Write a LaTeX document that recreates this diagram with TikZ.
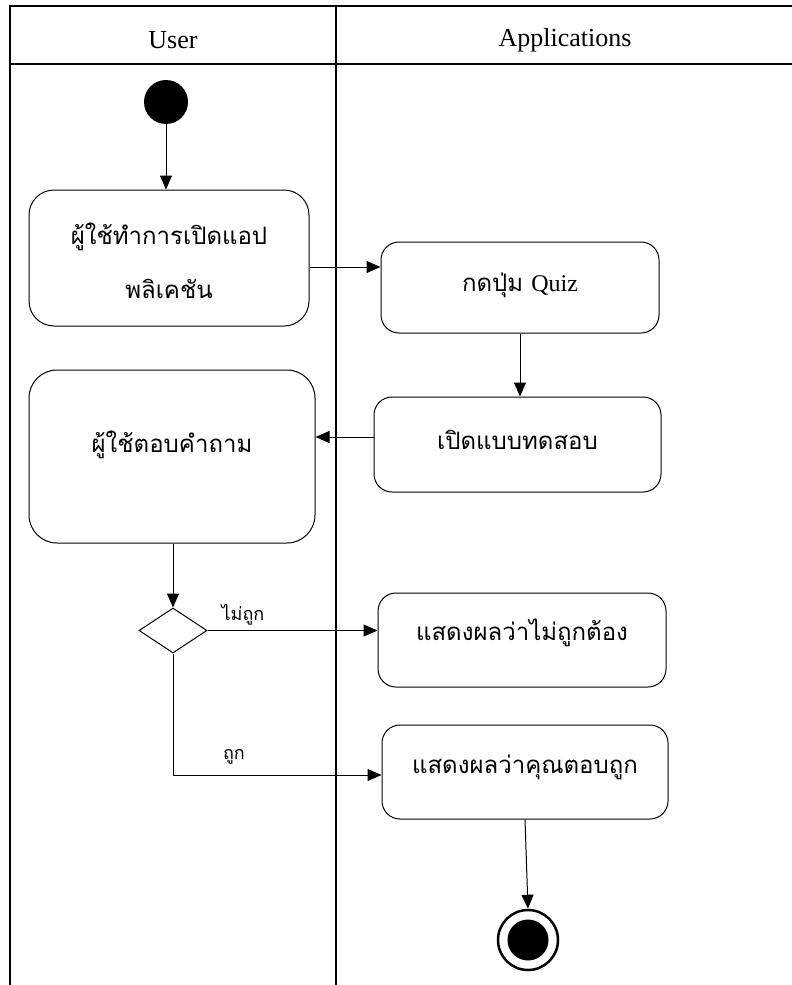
\documentclass[tikz,border=0pt]{standalone}
\usepackage{fontspec}
\setmainfont{Liberation Serif}
\newfontfamily\thai[Script=Thai]{Loma}
\usetikzlibrary{arrows.meta,shapes.geometric}
\newcommand\liftby[2]{\raisebox{#1}[\height][\depth]{#2}}
\begin{document}
\begin{tikzpicture}[x=1pt,y=-1pt,
  lane/.style={line width=2.5pt, line join=miter},
  actbox/.style={draw, line width=1pt, rounded corners=18pt, inner sep=0pt,
    font=\thai\fontsize{24}{30}\selectfont, align=center},
  flow/.style={line width=1pt, -{Triangle[length=14pt,width=12pt]}},
  lbl/.style={font=\thai\fontsize{18}{20}\selectfont, inner sep=0pt},
  head/.style={font=\fontsize{26}{30}\selectfont, inner sep=0pt}
]
\useasboundingbox (0,0) rectangle (792,985);
% swimlanes
\draw[lane] (10,985) -- (10,6) -- (792,6);
\draw[lane] (10,64) -- (792,64);
\draw[lane] (336,6) -- (336,985);
\node[head] (huser) at (173,40) {User};
\node[head] (happ) at (565,40) {Applications};
% start
\node[circle, fill=black, minimum size=44pt, inner sep=0pt] (start) at (166,102) {};
% activities
\node[actbox, rounded corners=25pt, minimum width=280pt, minimum height=136pt] (b1) at (169,258)
  {\liftby{-7pt}{\begin{tabular}{@{}c@{}}ผู้ใช้ทำการเปิดแอป\\[24pt]พลิเคชัน\end{tabular}}};
\node[actbox, minimum width=278pt, minimum height=91pt] (b2) at (520,287.5)
  {\liftby{2pt}{กดปุ่ม {\rmfamily Quiz}}};
\node[actbox, minimum width=287pt, minimum height=95pt] (b3) at (517.5,444.5)
  {\liftby{5pt}{เปิดแบบทดสอบ}};
\node[actbox, rounded corners=28pt, minimum width=286pt, minimum height=173pt] (b4) at (172,456.5)
  {\liftby{12pt}{ผู้ใช้ตอบคำถาม}};
\node[diamond, draw, line width=1pt, minimum width=68pt, minimum height=45pt, inner sep=0pt] (dec) at (173,630.5) {};
\node[actbox, minimum width=288pt, minimum height=94pt] (b5) at (522,640)
  {\liftby{7pt}{แสดงผลว่าไม่ถูกต้อง}};
\node[actbox, minimum width=286pt, minimum height=94pt] (b6) at (525,772)
  {\liftby{5pt}{แสดงผลว่าคุณตอบถูก}};
% end
\node[circle, draw, line width=2.5pt, minimum size=60pt, inner sep=0pt,
  path picture={\fill (path picture bounding box.center) circle (20.5pt);}] (end) at (528,940) {};
% connectors
\coordinate (r1) at (0,267);
\coordinate (r2) at (0,437);
\coordinate (r3) at (0,775);
\draw[flow] (start) -- (start |- b1.north);
\draw[flow] (b1.east |- r1) -- (b2.west |- r1);
\draw[flow] (b2.south) -- (b2.south |- b3.north);
\draw[flow] (b3.west |- r2) -- (b4.east |- r2);
\draw[flow] (b4.south -| dec.north) -- (dec.north);
\draw[flow] (dec.east) -- (b5.west |- dec.east);
\node[lbl] (lno) at (243,615) {ไม่ถูก};
\draw[flow] (dec.south) -- (dec.south |- r3) -- (b6.west |- r3);
\node[lbl] (lyes) at (234,757) {ถูก};
\draw[flow] (b6.south) -- (end.north);
\end{tikzpicture}
\end{document}
